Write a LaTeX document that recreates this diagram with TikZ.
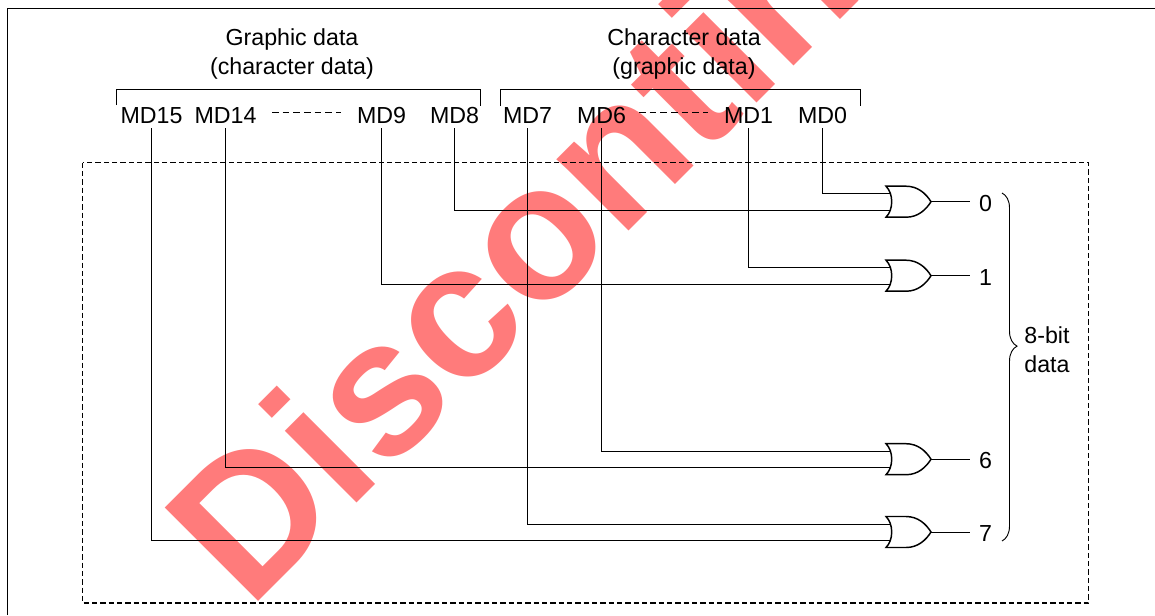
\documentclass[tikz,border=0pt]{standalone}
\usepackage{fontspec}
\setmainfont{Liberation Sans}
\newfontfamily\stampfont{Liberation Sans Bold}
\usepackage{tikz}
\usetikzlibrary{positioning}
\usetikzlibrary{decorations.pathreplacing}
\definecolor{stampred}{HTML}{FF7B7B}
\tikzset{
	orgate/.pic={
		\draw[line width=1.1pt] (0,-15.5) .. controls (7.6,-8) and (7.6,8) .. (0,15.5) -- (20,15.5) .. controls (32,15.5) and (40,8) .. (45,0) .. controls (40,-8) and (32,-15.5) .. (20,-15.5) -- cycle;
		\coordinate (-in1) at (4.6,-8);
		\coordinate (-in2) at (4.6,8.5);
		\coordinate (-out) at (45,0);
	}
}

\begin{document}
\begin{tikzpicture}[x=0.75pt,y=-0.75pt,line width=0.7pt,node distance=29.25pt]
	\tikzstyle{mdlabel}=[font=\fontsize{17.4}{21.75}\selectfont, inner xsep=0pt, inner ysep=3pt, text height=12.5pt, text depth=0pt]
	\tikzstyle{caption}=[font=\fontsize{17.4}{21.75}\selectfont, align=center, inner sep=0pt]
	\tikzstyle{bitlabel}=[font=\fontsize{17.4}{21.75}\selectfont, inner xsep=6.4pt, inner ysep=0pt, yshift=-1.2pt]
	\tikzstyle{wire}=[to path={|- (\tikztotarget)}]
	\useasboundingbox (0,0) rectangle (1155,615);

	% stamp behind everything
	\begin{scope}
		\clip (0,0) rectangle (1155,615);
		\node[anchor=base west, rotate=45, inner sep=0pt, text=stampred, font=\stampfont\fontsize{144}{144}\selectfont] (Stamp) at (249,611) {Discontinued};
	\end{scope}

	% page frame and dashed box
	\coordinate (FrameA) at (7.5,615);
	\coordinate (FrameB) at (7.5,8.5);
	\coordinate (FrameC) at (1155,8.5);
	\draw[line width=0.95pt] (FrameA) -- (FrameB) -- (FrameC);
	\draw[line width=0.95pt, dash pattern=on 4pt off 2.25pt] (82.5,162.5) rectangle (1088.5,603);

	% bus bit labels
	\node[mdlabel] (MD15) at (151.5,115.4) {MD15};
	\node[mdlabel] (MD14) at (225.5,115.4) {MD14};
	\node[mdlabel] (MD9) at (381.5,115.4) {MD9};
	\node[mdlabel] (MD8) at (454.5,115.4) {MD8};
	\node[mdlabel] (MD7) at (527.5,115.4) {MD7};
	\node[mdlabel] (MD6) at (601.5,115.4) {MD6};
	\node[mdlabel] (MD1) at (748.5,115.4) {MD1};
	\node[mdlabel] (MD0) at (822.5,115.4) {MD0};

	\node[caption] (GraphicCap) at (292,53.5) {Graphic data\\(character data)};
	\node[caption] (CharCap) at (684,53.5) {Character data\\(graphic data)};

	% brackets over the labels
	\draw (116.5,105) -- (116.5,89.5) -- (480.5,89.5) -- (480.5,106);
	\draw (500.5,106) -- (500.5,89.5) -- (860.5,89.5) -- (860.5,106);

	\coordinate (GapA) at (272,112.5);
	\coordinate (GapB) at (341,112.5);
	\coordinate (GapC) at (639,112.5);
	\coordinate (GapD) at (708,112.5);
	\draw[dash pattern=on 5pt off 3pt] (GapA) -- (GapB);
	\draw[dash pattern=on 5pt off 3pt] (GapC) -- (GapD);

	% gates and outputs
	\pic (G0) at (886,201.7) {orgate};
	\pic (G1) at (886,275.7) {orgate};
	\pic (G6) at (886,459.2) {orgate};
	\pic (G7) at (886,532) {orgate};
	\node[bitlabel] (B0) [right=of G0-out] {0};
	\node[bitlabel] (B1) [right=of G1-out] {1};
	\node[bitlabel] (B6) [right=of G6-out] {6};
	\node[bitlabel] (B7) [right=of G7-out] {7};

	\path
	(MD0.south) edge[wire] (G0-in1)
	(MD8.south) edge[wire] (G0-in2)
	(MD1.south) edge[wire] (G1-in1)
	(MD9.south) edge[wire] (G1-in2)
	(MD6.south) edge[wire] (G6-in1)
	(MD14.south) edge[wire] (G6-in2)
	(MD7.south) edge[wire] (G7-in1)
	(MD15.south) edge[wire] (G7-in2);
	\draw (G0-out) -- (G0-out -| B0.west);
	\draw (G1-out) -- (G1-out -| B1.west);
	\draw (G6-out) -- (G6-out -| B6.west);
	\draw (G7-out) -- (G7-out -| B7.west);

	% brace over the outputs
	\coordinate (BraceTop) at (1002,193);
	\coordinate (BraceBot) at (1002,541);
	\draw[decorate, decoration={brace, amplitude=11.25pt, aspect=0.44}] (BraceTop) -- (BraceBot);
	\node[caption] (BitCap) at (1047,350) {8-bit\\data};
\end{tikzpicture}
\end{document}
